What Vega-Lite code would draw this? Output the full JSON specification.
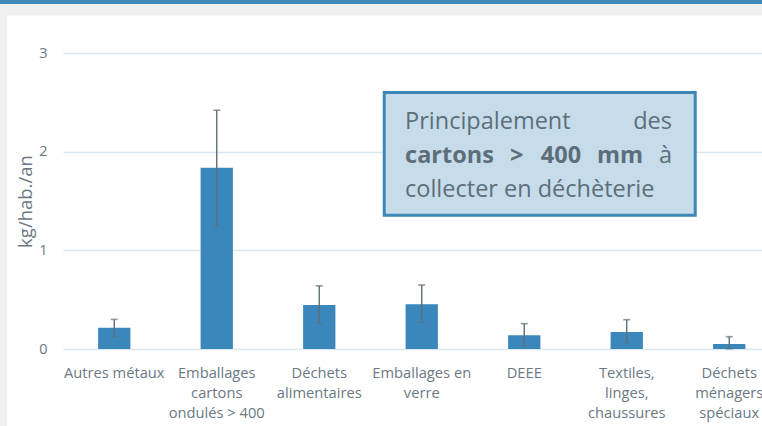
{
  "$schema": "https://vega.github.io/schema/vega-lite/v6.json",
  "width": 699,
  "height": 296,
  "autosize": {"type": "none"},
  "padding": {"left": 63, "top": 53, "right": 0, "bottom": 77},
  "background": "white",
  "config": {
    "font": "Open Sans",
    "view": {"stroke": null},
    "axis": {"labelFont": "Open Sans", "titleFont": "Open Sans"}
  },
  "datasets": {
    "waste": [
      {"categorie": "Autres métaux", "valeur": 0.215, "bas": 0.125, "haut": 0.30},
      {"categorie": "Emballages|cartons|ondulés > 400", "valeur": 1.837, "bas": 1.247, "haut": 2.42},
      {"categorie": "Déchets|alimentaires", "valeur": 0.446, "bas": 0.26, "haut": 0.64},
      {"categorie": "Emballages en|verre", "valeur": 0.453, "bas": 0.27, "haut": 0.649},
      {"categorie": "DEEE", "valeur": 0.139, "bas": 0.033, "haut": 0.257},
      {"categorie": "Textiles,|linges,|chaussures", "valeur": 0.172, "bas": 0.063, "haut": 0.297},
      {"categorie": "Déchets|ménagers|spéciaux", "valeur": 0.051, "bas": 0.0, "haut": 0.125}
    ]
  },
  "layer": [
    {
      "data": {"name": "waste"},
      "encoding": {
        "x": {
          "field": "categorie", "type": "nominal", "sort": null,
          "scale": {"range": [0, 717.5], "paddingInner": 0.685, "paddingOuter": 0.3425},
          "axis": {
            "title": null, "labelAngle": 0, "domain": false, "ticks": false,
            "labelExpr": "split(datum.label, '|')",
            "labelFontSize": 14.7, "labelColor": "#6b7984", "labelPadding": 16,
            "labelLineHeight": 20, "labelBaseline": "top", "labelLimit": 200
          }
        }
      },
      "layer": [
        {
          "mark": {"type": "bar", "color": "#3b87bb"},
          "encoding": {
            "y": {
              "field": "valeur", "type": "quantitative",
              "scale": {"domain": [0, 3], "nice": false, "zero": true},
              "axis": {
                "title": "kg/hab./an", "values": [0, 1, 2, 3], "format": "d",
                "domain": false, "ticks": false, "labelPadding": 16,
                "labelFontSize": 14.5, "labelColor": "#6b7984",
                "titleFontSize": 18.5, "titleFontWeight": "normal", "titleColor": "#6b7984",
                "titlePadding": 3, "gridColor": "#dbe6ee", "gridWidth": 1.3
              }
            }
          }
        },
        {
          "mark": {"type": "rule", "color": "#5c6f7b", "strokeWidth": 1.4},
          "encoding": {
            "y": {"field": "bas", "type": "quantitative"},
            "y2": {"field": "haut"}
          }
        },
        {
          "mark": {"type": "tick", "color": "#5c6f7b", "size": 7, "thickness": 1.6},
          "encoding": {"y": {"field": "haut", "type": "quantitative"}}
        },
        {
          "mark": {"type": "tick", "color": "#5c6f7b", "size": 7, "thickness": 1.2, "opacity": 0.6},
          "encoding": {"y": {"field": "bas", "type": "quantitative"}}
        }
      ]
    },
    {
      "data": {"values": [{}]},
      "encoding": {
        "x": {"datum": 0, "type": "quantitative", "scale": {"domain": [0, 7], "range": [0, 717.5], "nice": false, "zero": false}, "axis": null}
      },
      "layer": [
        {
          "mark": {"type": "rect", "color": "#f0f0f0", "clip": false},
          "encoding": {
            "x": {"datum": -0.7, "type": "quantitative"}, "x2": {"datum": -0.546},
            "y": {"datum": -1, "type": "quantitative"}, "y2": {"datum": 3.6}
          }
        },
        {
          "mark": {"type": "rect", "color": "#f0f0f0", "clip": false},
          "encoding": {
            "x": {"datum": -0.7, "type": "quantitative"}, "x2": {"datum": 7.1},
            "y": {"datum": 3.379, "type": "quantitative"}, "y2": {"datum": 3.6}
          }
        },
        {
          "mark": {"type": "rect", "color": "#3f88b9", "clip": false},
          "encoding": {
            "x": {"datum": -0.7, "type": "quantitative"}, "x2": {"datum": 7.1},
            "y": {"datum": 3.497, "type": "quantitative"}, "y2": {"datum": 3.6}
          }
        },
        {
          "mark": {"type": "rect", "fill": "#c6dcea", "stroke": "#3d86b8", "strokeWidth": 3},
          "encoding": {
            "x": {"datum": 3.134, "type": "quantitative"}, "x2": {"datum": 6.168},
            "y": {"datum": 1.356, "type": "quantitative"}, "y2": {"datum": 2.6}
          }
        },
        {
          "mark": {"type": "text", "text": "Principalement", "font": "Open Sans", "fontSize": 23.5, "color": "#5d6e79", "align": "left", "baseline": "alphabetic"},
          "encoding": {"x": {"datum": 3.337, "type": "quantitative"}, "y": {"datum": 2.23, "type": "quantitative"}}
        },
        {
          "mark": {"type": "text", "text": "des", "font": "Open Sans", "fontSize": 23.5, "color": "#5d6e79", "align": "right", "baseline": "alphabetic"},
          "encoding": {"x": {"datum": 5.941, "type": "quantitative"}, "y": {"datum": 2.23, "type": "quantitative"}}
        },
        {
          "mark": {"type": "text", "text": "cartons", "font": "Open Sans", "fontWeight": "bold", "fontSize": 23.5, "color": "#5d6e79", "align": "left", "baseline": "alphabetic"},
          "encoding": {"x": {"datum": 3.337, "type": "quantitative"}, "y": {"datum": 1.885, "type": "quantitative"}}
        },
        {
          "mark": {"type": "text", "text": ">", "font": "Open Sans", "fontWeight": "bold", "fontSize": 23.5, "color": "#5d6e79", "align": "left", "baseline": "alphabetic"},
          "encoding": {"x": {"datum": 4.361, "type": "quantitative"}, "y": {"datum": 1.885, "type": "quantitative"}}
        },
        {
          "mark": {"type": "text", "text": "400", "font": "Open Sans", "fontWeight": "bold", "fontSize": 23.5, "color": "#5d6e79", "align": "left", "baseline": "alphabetic"},
          "encoding": {"x": {"datum": 4.661, "type": "quantitative"}, "y": {"datum": 1.885, "type": "quantitative"}}
        },
        {
          "mark": {"type": "text", "text": "mm", "font": "Open Sans", "fontWeight": "bold", "fontSize": 23.5, "color": "#5d6e79", "align": "left", "baseline": "alphabetic"},
          "encoding": {"x": {"datum": 5.21, "type": "quantitative"}, "y": {"datum": 1.885, "type": "quantitative"}}
        },
        {
          "mark": {"type": "text", "text": "à", "font": "Open Sans", "fontSize": 23.5, "color": "#5d6e79", "align": "right", "baseline": "alphabetic"},
          "encoding": {"x": {"datum": 5.941, "type": "quantitative"}, "y": {"datum": 1.885, "type": "quantitative"}}
        },
        {
          "mark": {"type": "text", "text": "collecter en déchèterie", "font": "Open Sans", "fontSize": 23.5, "color": "#5d6e79", "align": "left", "baseline": "alphabetic"},
          "encoding": {"x": {"datum": 3.337, "type": "quantitative"}, "y": {"datum": 1.54, "type": "quantitative"}}
        }
      ]
    }
  ],
  "resolve": {"scale": {"x": "independent"}}
}
